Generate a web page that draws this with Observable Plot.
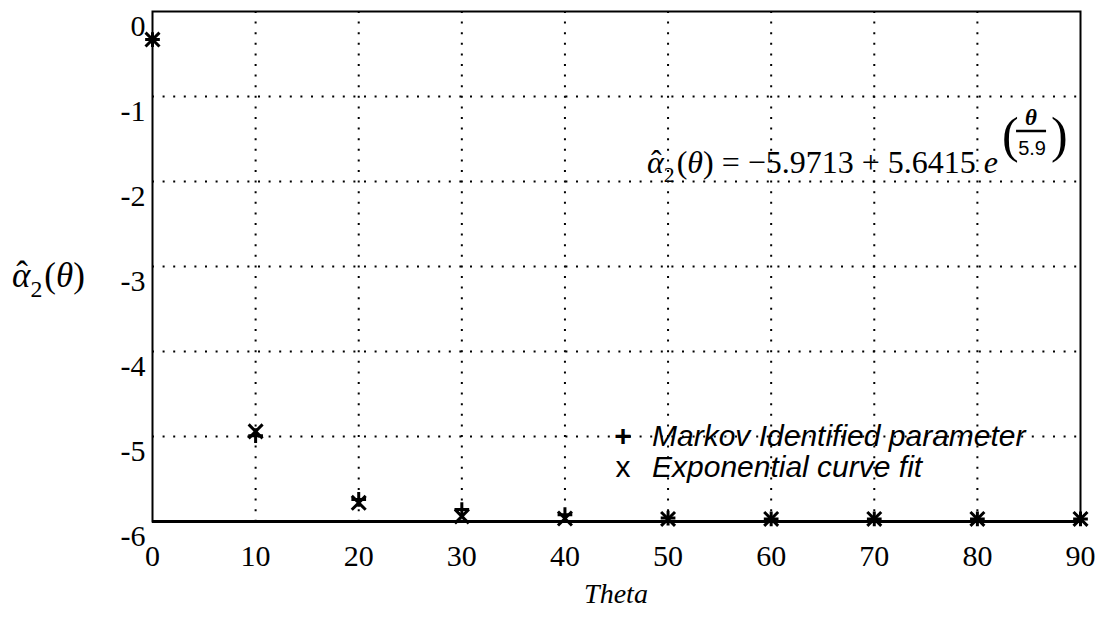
<!DOCTYPE html>
<html><head><meta charset="utf-8">
<script src="https://cdn.jsdelivr.net/npm/d3@7"></script>
<script src="https://cdn.jsdelivr.net/npm/@observablehq/plot@0.6"></script>
<style>body{margin:0;background:#fff;overflow:hidden}</style>
</head><body><div id="chart"></div>
<script>
const theta = [0, 10, 20, 30, 40, 50, 60, 70, 80, 90];
const markov = [-0.33, -4.99, -5.74, -5.86, -5.92, -5.96, -5.97, -5.97, -5.97, -5.97];
const fit = [-0.33, -4.94, -5.78, -5.94, -5.965, -5.97, -5.97, -5.97, -5.97, -5.97];
const xTicks = [0, 10, 20, 30, 40, 50, 60, 70, 80, 90];
const yTicks = [0, -1, -2, -3, -4, -5, -6];
const xGrid = [10, 20, 30, 40, 50, 60, 70, 80];
const yGrid = [-1, -2, -3, -4, -5];
const xLabel = "Theta";
const legendLabels = ["Markov Identified parameter", "Exponential curve fit"];
const legendSymbols = ["+", "x"];

const data = theta.map((t, i) => ({theta: t, markov: markov[i], fit: fit[i]}));
const serif = "'Liberation Serif', 'Times New Roman', serif";
const sans = "'Liberation Sans', Arial, sans-serif";
const dotted = {stroke: "black", strokeOpacity: 1, strokeWidth: 2, strokeDasharray: "2,8.6"};

const chart = Plot.plot({
  width: 1108, height: 624,
  marginLeft: 152, marginRight: 28, marginTop: 11, marginBottom: 103,
  style: {fontFamily: serif, fontSize: "30px", color: "black", background: "white"},
  x: {domain: [0, 90]},
  y: {domain: [-6, 0]},
  marks: [
    Plot.gridX(xGrid, dotted),
    Plot.gridY(yGrid, dotted),
    Plot.frame({stroke: "black", strokeWidth: 2}),
    Plot.ruleY([-6], {stroke: "black", strokeWidth: 3}),
    Plot.axisX(xTicks, {tickSize: 0, tickPadding: 23, fontSize: 30, fontFamily: serif, label: null, tickFormat: d => String(d)}),
    Plot.axisY(yTicks, {tickSize: 0, tickPadding: 7, fontSize: 30, fontFamily: serif, dy: 15, label: null, tickFormat: d => d === 0 ? "0" : "-" + Math.abs(d)}),
    Plot.dot(data, {x: "theta", y: "markov", symbol: "plus", r: 4.8, stroke: "black", strokeWidth: 3}),
    Plot.dot(data, {x: "theta", y: "fit", symbol: "times", r: 6.4, stroke: "black", strokeWidth: 3})
  ]
});
document.getElementById("chart").appendChild(chart);

const svg = d3.select(chart);
const g = svg.append("g").attr("fill", "black").attr("text-anchor", "start");

function txt(x, y, s, opts = {}) {
  const t = g.append("text").attr("x", x).attr("y", y).attr("text-anchor", opts.anchor || "start")
    .attr("font-family", opts.family || serif).attr("font-size", opts.size || 28)
    .attr("font-style", opts.italic ? "italic" : "normal").attr("font-weight", opts.bold ? "bold" : "normal").text(s);
  return t;
}
function w(t) { return t.node().getComputedTextLength(); }

// x axis title
txt(616, 603, xLabel, {anchor: "middle", italic: true, size: 28});

// α̂2(θ) built piece by piece; returns right edge
function alphaLabel(x, y, size) {
  const a = txt(x, y, "\u03B1", {italic: true, size});
  const aw = w(a);
  txt(x + aw * 0.55, y - size * 0.02, "\u02C6", {anchor: "middle", size});
  const s = txt(x + aw, y + size * 0.28, "2", {size: size * 0.68});
  const rest = g.append("text").attr("x", x + aw + w(s) + 2).attr("y", y).attr("text-anchor", "start")
    .attr("font-family", serif).attr("font-size", size);
  rest.append("tspan").text("(");
  rest.append("tspan").attr("font-style", "italic").text("\u03B8");
  rest.append("tspan").text(")");
  return x + aw + w(s) + 2 + w(rest);
}
alphaLabel(12, 287, 35);

// formula
const fx = alphaLabel(647, 173, 32);
const eq = txt(fx, 173, " = \u22125.9713 + 5.6415 ", {size: 32});
const e = txt(fx + w(eq), 173, "e", {italic: true, size: 32});
const ex = fx + w(eq) + w(e) + 4;
txt(ex, 152, "(", {size: 50});
txt(ex + 29, 125, "\u03B8", {anchor: "middle", italic: true, bold: true, size: 23});
g.append("line").attr("x1", ex + 14).attr("x2", ex + 44).attr("y1", 131).attr("y2", 131).attr("stroke", "black").attr("stroke-width", 2.5);
txt(ex + 30, 155, "5.9", {anchor: "middle", family: sans, size: 20});
txt(ex + 49, 152, ")", {size: 50});

// legend
legendLabels.forEach((lab, i) => {
  const y = 446 + i * 31;
  txt(623, y, legendSymbols[i], {anchor: "middle", family: sans, size: 30, bold: i === 0});
  txt(652, y, lab, {family: sans, italic: true, size: 30});
});
</script>
</body></html>
